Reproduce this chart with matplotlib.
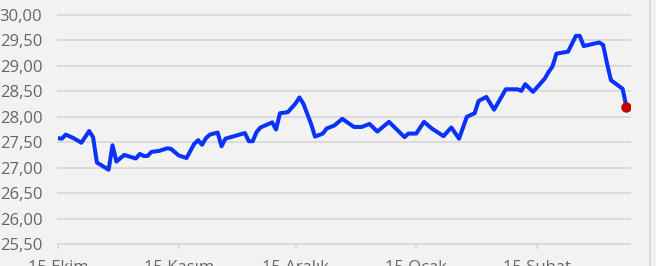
import numpy as np
import pandas as pd
import matplotlib
matplotlib.use("Agg")
import matplotlib.pyplot as plt
import matplotlib.dates as mdates

plt.rcParams['font.family'] = ['Open Sans', 'DejaVu Sans']

# gun sayisi 15 Ekim 2023'ten itibaren
gun = [0, 1, 2, 4, 6, 8, 9, 10, 13, 14, 15, 17, 20, 21, 22, 23, 24, 26, 28, 29,
       31, 33, 35, 36, 37, 38, 39, 41, 42, 43, 48, 49, 50, 51, 52, 55, 56, 57,
       59, 61, 62, 63, 65, 66, 68, 69, 71, 73, 76, 78, 80, 82, 85, 87, 89, 90,
       92, 94, 96, 99, 101, 103, 105, 107, 108, 110, 112, 115, 118, 119, 120,
       122, 125, 126, 127, 128, 131, 133, 134, 135, 139, 140, 141, 142, 145, 146]
deger = [27.58, 27.57, 27.65, 27.58, 27.49, 27.72, 27.60, 27.10, 26.96, 27.44,
         27.12, 27.25, 27.18, 27.27, 27.23, 27.23, 27.31, 27.33, 27.38, 27.37,
         27.24, 27.19, 27.47, 27.54, 27.45, 27.58, 27.65, 27.69, 27.42, 27.57,
         27.68, 27.52, 27.52, 27.70, 27.79, 27.89, 27.75, 28.07, 28.09, 28.26,
         28.38, 28.26, 27.86, 27.61, 27.67, 27.77, 27.83, 27.96, 27.80, 27.80,
         27.86, 27.71, 27.90, 27.75, 27.60, 27.67, 27.67, 27.90, 27.77, 27.62,
         27.79, 27.57, 28.00, 28.07, 28.31, 28.39, 28.14, 28.54, 28.54, 28.51,
         28.64, 28.49, 28.75, 28.88, 28.99, 29.24, 29.28, 29.59, 29.59, 29.39,
         29.46, 29.41, 29.05, 28.72, 28.55, 28.19]
ay_etiket = ["15 Ekim", "15 Kasım", "15 Aralık", "15 Ocak", "15 Şubat"]
y_ticks = [25.5, 26.0, 26.5, 27.0, 27.5, 28.0, 28.5, 29.0, 29.5, 30.0]

baslangic = pd.Timestamp("2023-10-15")
tarih = baslangic + pd.to_timedelta(gun, unit="D")
ay_tarih = pd.to_datetime(["2023-10-15", "2023-11-15", "2023-12-15",
                           "2024-01-15", "2024-02-15"])

bg = "#f2f2f2"
fig = plt.figure(figsize=(6.56, 2.66), dpi=100, facecolor=bg)
ax = fig.add_axes([58/656, 22/266, 572/656, 229/266], facecolor=bg)

ax.plot(tarih, deger, color="#0a32ff", lw=2.9, solid_joinstyle="round",
        solid_capstyle="round", zorder=3)
ax.plot(tarih[-1:], deger[-1:], "o", color="#c00000", ms=6.5, zorder=4)

ax.set_xlim(baslangic, baslangic + pd.Timedelta(days=146.9))
ax.set_ylim(25.5, 30.0)
ax.set_yticks(y_ticks)
ax.set_yticklabels([("%.2f" % v).replace(".", ",") for v in y_ticks])
ax.set_xticks(ay_tarih)
ax.set_xticklabels(ay_etiket)

ax.grid(axis="y", color="#d9d9d9", lw=1.3)
for gl in ax.get_ygridlines():
    gl.set_clip_on(False)
for s in ax.spines.values():
    s.set_visible(False)

ax.tick_params(axis="y", length=0, pad=11.3, labelsize=12, labelcolor="#666666")
ax.tick_params(axis="x", length=3.6, width=1.3, color="#d9d9d9", pad=8,
               labelsize=12, labelcolor="#666666")

# sag kenar cizgisi
fig.add_artist(plt.Line2D([650/656, 650/656], [0, 1], color="#d9d9d9", lw=1.3))

fig.savefig("out.png", dpi=100, facecolor=bg)
